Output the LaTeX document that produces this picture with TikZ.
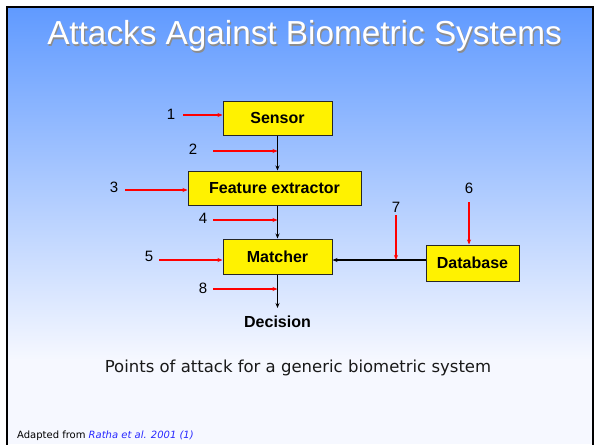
\documentclass[tikz,border=0pt]{standalone}
\usepackage{fontspec}
\setmainfont{Liberation Sans}
\newfontfamily\capfont{DejaVu Sans}
\usetikzlibrary{arrows.meta}
\definecolor{slidetop}{RGB}{96,154,255}
\definecolor{slidebottom}{RGB}{246,248,255}
\definecolor{linkblue}{RGB}{40,40,255}
\begin{document}
\begin{tikzpicture}[x=1pt,y=-1pt,
    box/.style={draw=black!85,fill=yellow,line width=1pt,inner sep=0pt,
      font=\bfseries\fontsize{16}{18}\selectfont},
    num/.style={inner sep=0pt,font=\fontsize{15}{17}\selectfont},
    flow/.style={draw=black,line width=1.1pt,-{Stealth[length=5pt,width=4pt]}},
    attack/.style={draw=red,line width=1.3pt,-{Stealth[length=5pt,width=4pt]}}]
  \useasboundingbox (0,0) rectangle (596,444);
  % slide background
  \fill[white] (0,0) rectangle (596,444);
  \shade[top color=slidetop,bottom color=slidebottom] (7,7) rectangle (593,360);
  \fill[slidebottom] (7,360) rectangle (593,444);
  \draw[line width=2.5pt] (7,446) |- (593,7) -- (593,446);
  % title
  \node[anchor=base,text=black!45,font=\fontsize{33.3}{36}\selectfont] (shadow) at (305.7,46.2) {Attacks Against Biometric Systems};
  \node[anchor=base,text=white,font=\fontsize{33.3}{36}\selectfont] (title) at (304.5,45) {Attacks Against Biometric Systems};
  % blocks
  \node[box,minimum width=109pt,minimum height=34pt] (sensor) at (277.5,118) {Sensor};
  \node[box,minimum width=173pt,minimum height=34pt] (feat) at (274.5,188) {Feature extractor};
  \node[box,minimum width=109pt,minimum height=35pt] (match) at (277.5,256.5) {Matcher};
  \node[box,minimum width=93pt,minimum height=36pt] (db) at (472.5,263) {Database};
  \node[inner sep=0pt,font=\bfseries\fontsize{16}{18}\selectfont] (dec) at (277.5,322) {Decision};
  \coordinate (decin) at (277.5,308);
  \coordinate (dbout) at (426,260);
  % flow
  \draw[flow] (sensor.south) -- (sensor.south |- feat.north);
  \draw[flow] (sensor.south |- feat.south) -- (match.north);
  \draw[flow] (match.south) -- (decin);
  \draw[flow] (dbout) -- (dbout -| match.east);
  % points of attack
  \coordinate (a1) at (183,115);
  \coordinate (a2) at (213,151);
  \coordinate (a3) at (125,190);
  \coordinate (a4) at (213,220);
  \coordinate (a5) at (159,260);
  \coordinate (a6) at (469,202);
  \coordinate (a7) at (396,215);
  \coordinate (a8) at (213,289);
  \begin{scope}[attack]
    \draw (a1) -- (a1 -| sensor.west);
    \draw (a2) -- (a2 -| sensor.south);
    \draw (a3) -- (a3 -| feat.west);
    \draw (a4) -- (a4 -| sensor.south);
    \draw (a5) -- (a5 -| match.west);
    \draw (a6) -- (a6 |- db.north);
    \draw (a7) -- (a7 |- dbout);
    \draw (a8) -- (a8 -| sensor.south);
  \end{scope}
  \node[num] (n1) at (171,114) {1};
  \node[num] (n2) at (193,149) {2};
  \node[num] (n3) at (114,187) {3};
  \node[num] (n4) at (203,218) {4};
  \node[num] (n5) at (149,256) {5};
  \node[num] (n6) at (469,188) {6};
  \node[num] (n7) at (396,207) {7};
  \node[num] (n8) at (203,288) {8};
  % caption and source
  \node[anchor=base,font=\capfont\fontsize{16.5}{19}\selectfont,text=black!90] (caption) at (298,372) {Points of attack for a generic biometric system};
  \node[anchor=base west,inner sep=0pt,font=\capfont\fontsize{10}{12}\selectfont] (source) at (17,438) {Adapted from \textcolor{linkblue}{\itshape Ratha et al. 2001 (1)}};
\end{tikzpicture}
\end{document}
